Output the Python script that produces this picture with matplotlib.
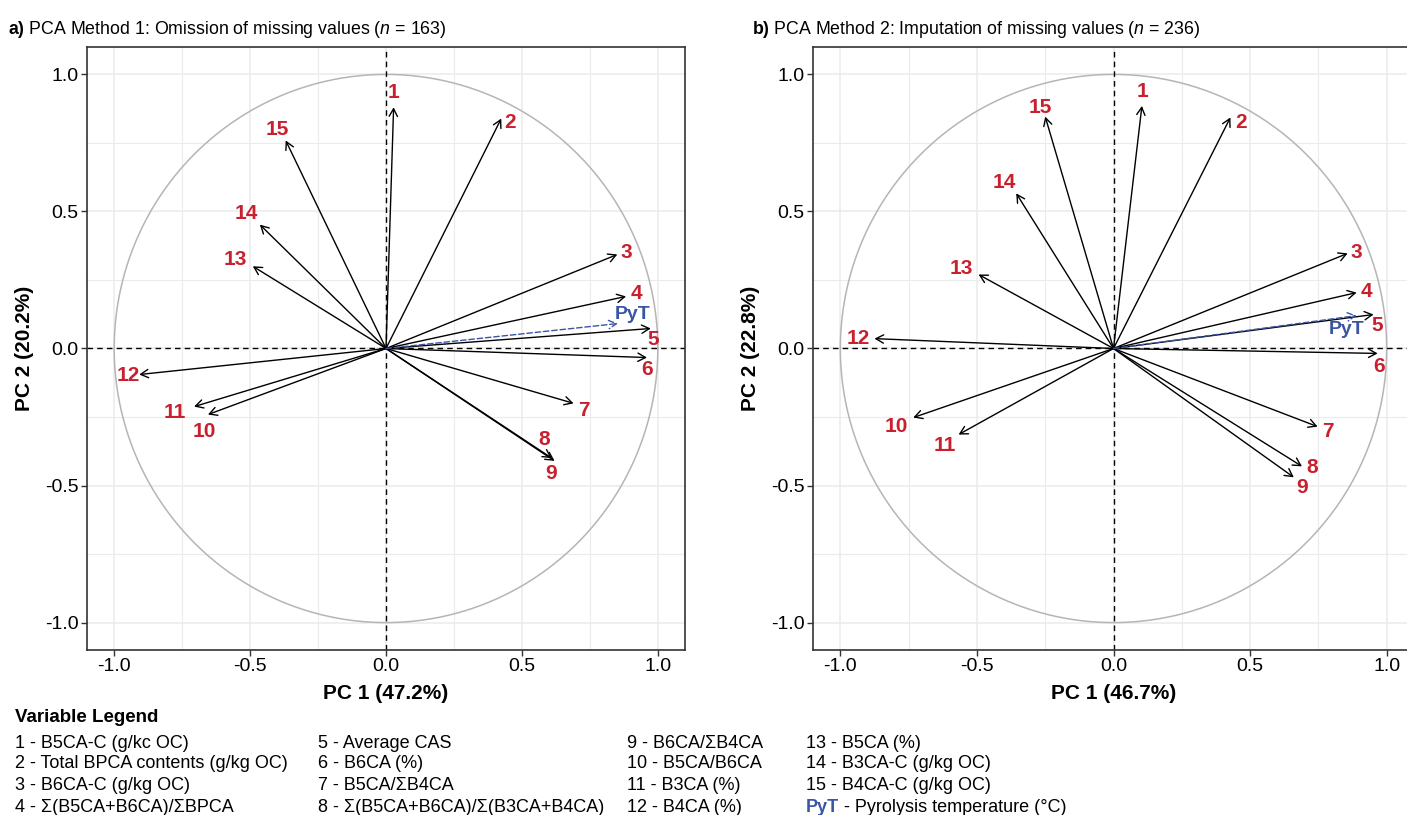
import matplotlib
matplotlib.use("Agg")
import matplotlib.pyplot as plt
import numpy as np

plt.rcParams['font.family'] = ['Liberation Sans', 'DejaVu Sans']
plt.rcParams['mathtext.fontset'] = 'custom'
plt.rcParams['mathtext.rm'] = 'Liberation Sans'
plt.rcParams['mathtext.it'] = 'Liberation Sans:italic'
plt.rcParams['mathtext.bf'] = 'Liberation Sans:bold'

# ---------------- data ----------------
var_labels = ['1', '2', '3', '4', '5', '6', '7', '8', '9', '10', '11', '12', '13', '14', '15']

pc1_m1 = [0.028, 0.424, 0.851, 0.883, 0.974, 0.960, 0.690, 0.610, 0.620, -0.655, -0.706, -0.908, -0.490, -0.464, -0.369]
pc2_m1 = [0.880, 0.839, 0.343, 0.190, 0.073, -0.033, -0.200, -0.400, -0.410, -0.241, -0.212, -0.095, 0.300, 0.452, 0.759]
pyt_m1 = [0.853, 0.091]

pc1_m2 = [0.104, 0.428, 0.857, 0.890, 0.952, 0.967, 0.747, 0.690, 0.660, -0.733, -0.567, -0.875, -0.494, -0.356, -0.250]
pc2_m2 = [0.885, 0.843, 0.347, 0.204, 0.124, -0.018, -0.285, -0.430, -0.470, -0.252, -0.314, 0.036, 0.270, 0.566, 0.846]
pyt_m2 = [0.890, 0.120]

titles = [r"$\bf{a)}$ PCA Method 1: Omission of missing values ($\it{n}$ = 163)",
          r"$\bf{b)}$ PCA Method 2: Imputation of missing values ($\it{n}$ = 236)"]
xlabels = ['PC 1 (47.2%)', 'PC 1 (46.7%)']
ylabels = ['PC 2 (20.2%)', 'PC 2 (22.8%)']

legend_items = [
    '1 - B5CA-C (g/kc OC)', '2 - Total BPCA contents (g/kg OC)', '3 - B6CA-C (g/kg OC)', '4 - Σ(B5CA+B6CA)/ΣBPCA',
    '5 - Average CAS', '6 - B6CA (%)', '7 - B5CA/ΣB4CA', '8 - Σ(B5CA+B6CA)/Σ(B3CA+B4CA)',
    '9 - B6CA/ΣB4CA', '10 - B5CA/B6CA', '11 - B3CA (%)', '12 - B4CA (%)',
    '13 - B5CA (%)', '14 - B3CA-C (g/kg OC)', '15 - B4CA-C (g/kg OC)',
]
pyt_legend = ('PyT', ' - Pyrolysis temperature (°C)')

# label offsets (pixels from arrow tip: dx right, dy up) - layout only
offs_m1 = [(0, 15), (9, -4), (9, 2), (10, 3), (2, -11), (0, -12), (10, -7), (-8, 19), (-3, -13),
           (-4, -17), (-19, -6), (-11, -1), (-17, 7), (-14, 11), (-8, 11)]
pyt_off_m1 = (15, 9)
offs_m2 = [(1, 14), (11, -5), (9, 1), (10, 1), (4, -11), (1, -13), (10, -5), (10, -1), (8, -10),
           (-17, -9), (-14, -11), (-16, 0), (-17, 6), (-12, 11), (-5, 9)]
pyt_off_m2 = (-10, -14)

RED = '#C8202F'
BLUE = '#3A55A4'

W, H = 1407, 815
fig = plt.figure(figsize=(W / 100, H / 100), dpi=100)

axes_px = [(87, 47, 685, 650), (813, 47, 1414, 650)]
panels = [(pc1_m1, pc2_m1, pyt_m1, offs_m1, pyt_off_m1),
          (pc1_m2, pc2_m2, pyt_m2, offs_m2, pyt_off_m2)]

px2pt = 0.72
for i, (box, (xs, ys, pyt, offs, poff)) in enumerate(zip(axes_px, panels)):
    l, t, r, b = box
    ax = fig.add_axes([l / W, 1 - b / H, (r - l) / W, (b - t) / H])
    ax.set_xlim(-1.1, 1.1)
    ax.set_ylim(-1.1, 1.1)
    ticks = [-1.0, -0.5, 0.0, 0.5, 1.0]
    ax.set_xticks(ticks)
    ax.set_yticks(ticks)
    ax.set_xticklabels([f'{v:.1f}' for v in ticks])
    ax.set_yticklabels([f'{v:.1f}' for v in ticks])
    ax.set_xticks(np.arange(-1.0, 1.01, 0.25), minor=True)
    ax.set_yticks(np.arange(-1.0, 1.01, 0.25), minor=True)
    ax.tick_params(which='minor', length=0)
    ax.tick_params(which='major', length=4, width=1, color='#333333', labelsize=14, labelcolor='black', pad=2)
    ax.grid(which='major', color='#ebebeb', lw=1.1, zorder=0)
    ax.grid(which='minor', color='#ebebeb', lw=0.8, zorder=0)
    for s in ax.spines.values():
        s.set_color('#333333')
        s.set_linewidth(1.2)
    ax.set_axisbelow(True)

    th = np.linspace(0, 2 * np.pi, 400)
    ax.plot(np.cos(th), np.sin(th), color='#b5b5b5', lw=1.1, zorder=1)
    ax.axhline(0, color='black', ls=(0, (4, 3)), lw=1, zorder=2)
    ax.axvline(0, color='black', ls=(0, (4, 3)), lw=1, zorder=2)

    for lab, x, y, (dx, dy) in zip(var_labels, xs, ys, offs):
        ax.annotate('', xy=(x, y), xytext=(0, 0),
                    arrowprops=dict(arrowstyle='->,head_length=0.55,head_width=0.3', lw=1.0,
                                    color='black', shrinkA=0, shrinkB=0), zorder=3)
        ax.annotate(lab, xy=(x, y), xytext=(dx * px2pt, dy * px2pt), textcoords='offset points',
                    ha='center', va='center', color=RED, fontsize=15, fontweight='bold', zorder=4)
    ax.annotate('', xy=(pyt[0], pyt[1]), xytext=(0, 0),
                arrowprops=dict(arrowstyle='->,head_length=0.55,head_width=0.3', lw=1.0,
                                color=BLUE, ls=(0, (4, 2)), shrinkA=0, shrinkB=0), zorder=3)
    ax.annotate('PyT', xy=(pyt[0], pyt[1]), xytext=(poff[0] * px2pt, poff[1] * px2pt),
                textcoords='offset points', ha='center', va='center', color=BLUE,
                fontsize=14, fontweight='bold', zorder=4)

    ax.set_xlabel(xlabels[i], fontsize=15, fontweight='bold', labelpad=6)
    ax.set_ylabel(ylabels[i], fontsize=15, fontweight='bold', labelpad=8)
    fig.text((8 if i == 0 else 752) / W, 1 - 34 / H, titles[i], fontsize=12.8, ha='left', va='baseline')

# legend
fig.text(15 / W, 1 - 717 / H, 'Variable Legend', fontsize=13.5, fontweight='bold', ha='left', va='center')
col_x = [15, 318, 627, 806]
row_y = [743, 764, 786, 807]
for k, item in enumerate(legend_items):
    c, rr = divmod(k, 4)
    fig.text(col_x[c] / W, 1 - row_y[rr] / H, item, fontsize=13, ha='left', va='center')
tp = fig.text(col_x[3] / W, 1 - row_y[3] / H, pyt_legend[0], fontsize=13, fontweight='bold',
              color=BLUE, ha='left', va='center')
plt.annotate(pyt_legend[1], xy=(1, 0.5), xycoords=tp, va='center', ha='left', fontsize=13,
             annotation_clip=False)

fig.savefig('out.png', dpi=100)
